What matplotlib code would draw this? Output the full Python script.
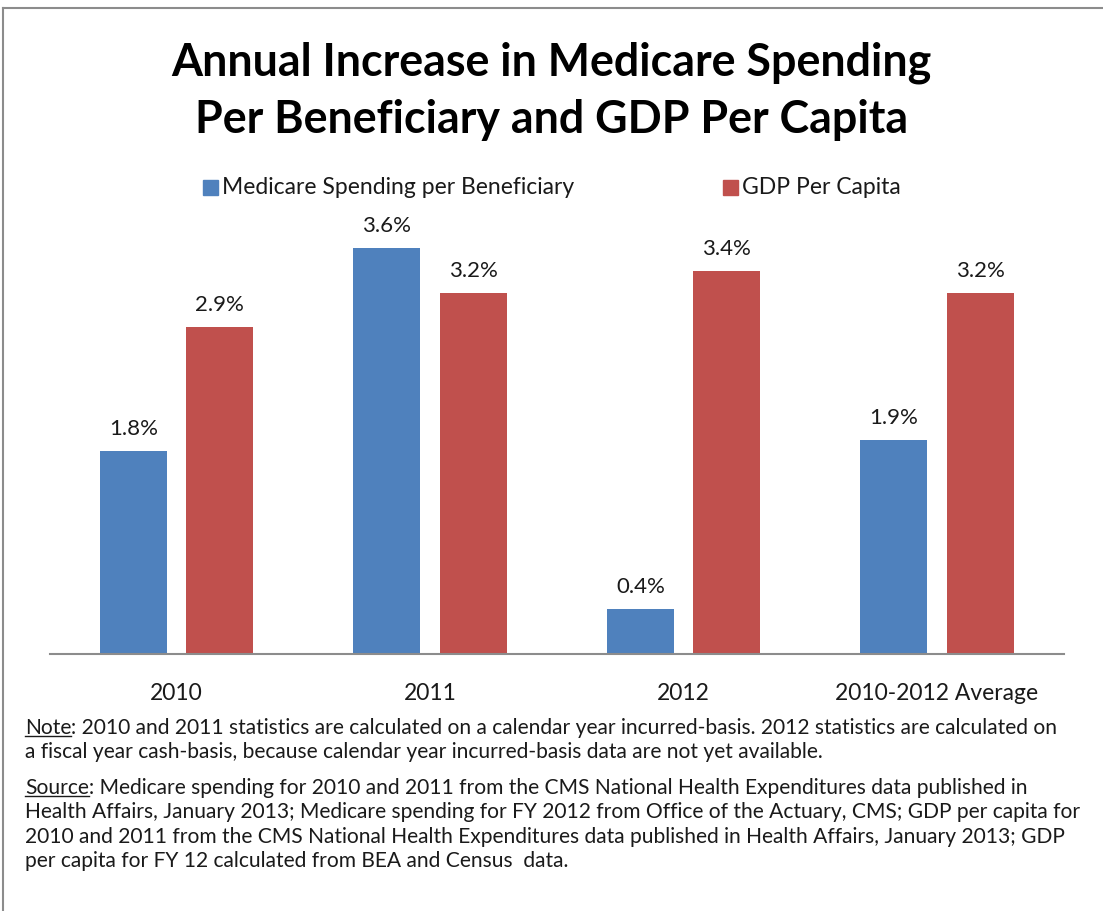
import matplotlib
matplotlib.use("Agg")
import matplotlib.pyplot as plt
from matplotlib.lines import Line2D
import numpy as np

categories = ["2010", "2011", "2012", "2010-2012 Average"]
medicare = [1.8, 3.6, 0.4, 1.9]
gdp = [2.9, 3.2, 3.4, 3.2]
series_names = ["Medicare Spending per Beneficiary", "GDP Per Capita"]
title = "Annual Increase in Medicare Spending\nPer Beneficiary and GDP Per Capita"
note_lines = [
    ("Note", ": 2010 and 2011 statistics are calculated on a calendar year incurred-basis. 2012 statistics are calculated on"),
    ("", "a fiscal year cash-basis, because calendar year incurred-basis data are not yet available."),
    ("Source", ": Medicare spending for 2010 and 2011 from the CMS National Health Expenditures data published in"),
    ("", "Health Affairs, January 2013; Medicare spending for FY 2012 from Office of the Actuary, CMS; GDP per capita for"),
    ("", "2010 and 2011 from the CMS National Health Expenditures data published in Health Affairs, January 2013; GDP"),
    ("", "per capita for FY 12 calculated from BEA and Census  data."),
]

BLUE = "#4F81BD"
RED = "#C0504D"
FONT = "Lato"
plt.rcParams['font.family'] = [FONT, 'DejaVu Sans']

W, H = 1103, 912
fig = plt.figure(figsize=(W / 100, H / 100), dpi=100)

# border
fig.add_artist(Line2D([3 / W, 1], [1 - 9 / H, 1 - 9 / H], color="#8c8c8c", lw=1.5, transform=fig.transFigure))
fig.add_artist(Line2D([3 / W, 3 / W], [0, 1 - 9 / H], color="#8c8c8c", lw=1.5, transform=fig.transFigure))

ax = fig.add_axes([49.75 / W, (H - 655) / H, 1014 / W, 451 / H])
x = np.arange(len(categories))
w = 0.265
off = 0.17
b1 = ax.bar(x - off, medicare, w, color=BLUE, label=series_names[0])
b2 = ax.bar(x + off, gdp, w, color=RED, label=series_names[1])
ax.set_xlim(-0.5, 3.5)
ax.set_ylim(0, 4)
for s in ["top", "right", "left"]:
    ax.spines[s].set_visible(False)
ax.spines["bottom"].set_color("#8c8c8c")
ax.spines["bottom"].set_linewidth(1.5)
ax.set_yticks([])
ax.set_xticks(x)
ax.set_xticklabels(categories, fontsize=16.5, color="#1a1a1a")
ax.tick_params(axis="x", length=0, pad=20)

for bars, vals in ((b1, medicare), (b2, gdp)):
    for r, v in zip(bars, vals):
        ax.annotate(f"{v:.1f}%", (r.get_x() + r.get_width() / 2, v), xytext=(0, 16.5),
                    textcoords="offset points", ha="center", va="center", fontsize=16, color="#1a1a1a")

fig.text(0.5, 1 - 91 / H, title, ha="center", va="center", fontsize=32.2, fontweight="bold",
         linespacing=1.45, color="black")

# legend
sq = 15
for (xs, xt, name, c) in ((203, 222, series_names[0], BLUE), (723, 742, series_names[1], RED)):
    fig.patches.append(plt.Rectangle((xs / W, 1 - 196 / H), sq / W, sq / H, color=c, transform=fig.transFigure))
    fig.text(xt / W, 1 - 188 / H, name, ha="left", va="center", fontsize=16.5, color="#1a1a1a")

# notes
ys = [734, 758, 794, 818, 843, 867]
fig.canvas.draw()
r = fig.canvas.get_renderer()
fs = 15.1
for (u, rest), yb in zip(note_lines, ys):
    xpix = 25
    yf = 1 - yb / H
    if u:
        t = fig.text(xpix / W, yf, u, ha="left", va="baseline", fontsize=fs, color="#1a1a1a")
        bb = t.get_window_extent(renderer=r)
        fig.add_artist(Line2D([bb.x0 / W, bb.x1 / W], [yf - 3 / H, yf - 3 / H], color="#1a1a1a", lw=1,
                              transform=fig.transFigure))
        xpix = bb.x1
    fig.text(xpix / W, yf, rest, ha="left", va="baseline", fontsize=fs, color="#1a1a1a")

fig.savefig("out.png", dpi=100)
